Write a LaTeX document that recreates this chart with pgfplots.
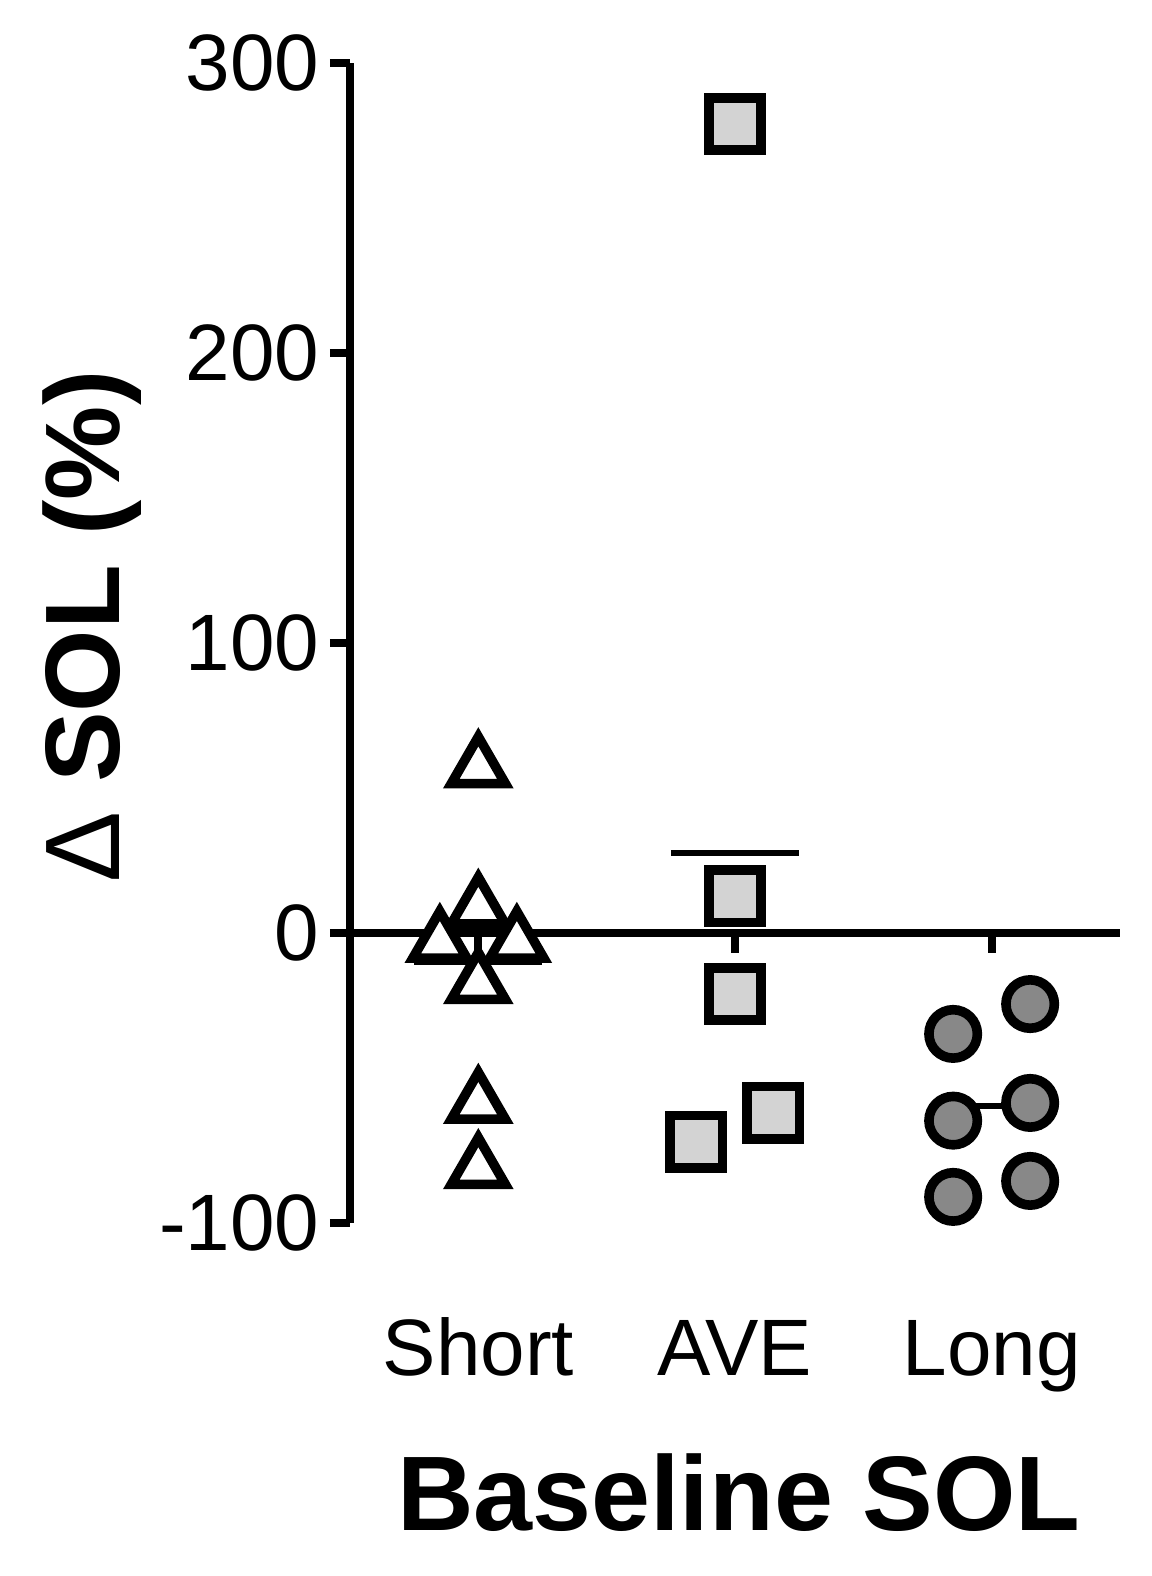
\documentclass[border=0pt]{standalone}
\usepackage{pgfplots}
\pgfplotsset{compat=1.18}
\usepackage{fontspec}
\setmainfont{Liberation Sans}
\definecolor{sqfill}{RGB}{211,211,211}
\definecolor{cifill}{RGB}{136,136,136}
\begin{document}
\begin{tikzpicture}
\path[use as bounding box] (-87.5pt,-88.25pt) rectangle (200.5pt,305.75pt);
\begin{axis}[
  at={(0pt,0pt)}, anchor=south west,
  scale only axis, width=192.5pt, height=290pt,
  xmin=-0.5, xmax=2.5, ymin=-100, ymax=300,
  axis x line=bottom, axis y line=left,
  x axis line style={draw=none, -},
  y axis line style={line width=2pt, -},
  xtick={0,1,2}, xticklabels={Short,AVE,Long},
  xtick style={draw=none},
  xticklabel style={anchor=base, inner sep=0pt, font=\fontsize{20}{24}\selectfont, yshift=-33pt},
  ytick={-100,0,100,200,300}, yticklabels={-100,0,100,200,300},
  ytick style={line width=2pt, black},
  tick align=outside, major tick length=5pt,
  yticklabel style={font=\fontsize{20}{24}\selectfont, anchor=east, inner sep=0pt, xshift=-2.5pt},
  clip=false,
  xlabel={Baseline SOL},
  ylabel={{\mdseries Δ} SOL (\%)},
  xlabel style={at={(axis description cs:0.505,-0.265)}, anchor=base, inner sep=0pt, font=\fontsize{26.5}{30}\selectfont\bfseries},
  ylabel style={at={(axis description cs:-0.2987,0.514)}, anchor=base, inner sep=0pt, font=\fontsize{26.5}{30}\selectfont\bfseries},
]
% mean lines
\addplot[black, line width=1.6pt] coordinates {(-0.25,-10) (0.25,-10)};
\addplot[black, line width=1.6pt] coordinates {(0.75,27.5) (1.25,27.5)};
\addplot[black, line width=1.6pt] coordinates {(1.8,-59.7) (2.2,-59.7)};
% Short
\addplot[only marks, mark=triangle*, mark size=7.8pt, mark options={solid, draw=black, fill=white, line width=2.4pt}]
  coordinates {(0,56.9) (0,8.5) (-0.15,-3.3) (0.15,-3.3) (0,-17.5) (0,-58.8) (0,-81.3)};
% AVE
\addplot[only marks, mark=square*, mark size=6.55pt, mark options={solid, draw=black, fill=sqfill, line width=2.4pt}]
  coordinates {(1,279) (1,12.6) (1,-21) (0.85,-72) (1.15,-62)};
% Long
\addplot[only marks, mark=*, mark size=6.05pt, mark options={solid, draw=black, fill=cifill, line width=2.4pt}]
  coordinates {(1.85,-34.8) (2.15,-24.5) (1.85,-64.7) (2.15,-58.6) (1.85,-91) (2.15,-85.5)};
% zero line and its ticks
\draw[black, line width=2.2pt] (axis cs:-0.5,0) -- (axis cs:2.5,0);
\draw[black, line width=2pt] (axis cs:0,0) -- ++(0pt,-5pt);
\draw[black, line width=2pt] (axis cs:1,0) -- ++(0pt,-5pt);
\draw[black, line width=2pt] (axis cs:2,0) -- ++(0pt,-5pt);
\end{axis}
\end{tikzpicture}
\end{document}
